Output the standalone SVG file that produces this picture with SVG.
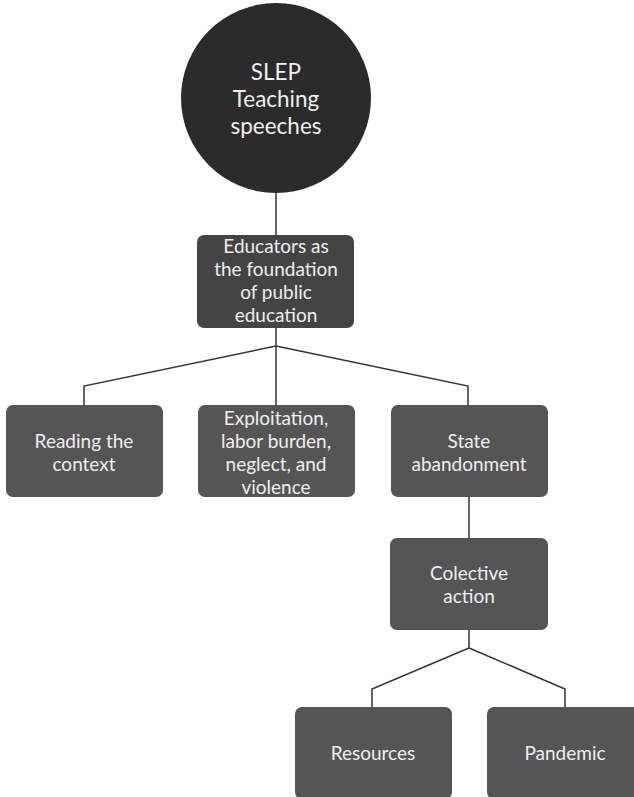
<svg xmlns="http://www.w3.org/2000/svg" width="634" height="797" viewBox="0 0 634 797">
<style>
.box{fill:#555555}
.dark{fill:#444444}
.t{font-family:Lato,"Liberation Sans",sans-serif;font-size:19px;fill:#eeeeee;text-anchor:middle}
.big{font-size:22.5px}
.c{fill:none;stroke:#333333;stroke-width:1.5}
</style>
<rect width="634" height="797" fill="#ffffff"/>
<g id="connectors">
<path class="c" d="M276,193 V235"/>
<path class="c" d="M276,328 V346 M276,346 L84,386 V405 M276,346 V405 M276,346 L468,386 V405"/>
<path class="c" d="M469,497 V538"/>
<path class="c" d="M469,630 V648 L372,689 V707 M469,648 L565,689 V707"/>
</g>
<g id="n-slep">
<circle cx="276" cy="98" r="95" fill="#2b2b2b"/>
<text class="t big" x="276" y="80">SLEP</text>
<text class="t big" x="276" y="107">Teaching</text>
<text class="t big" x="276" y="134">speeches</text>
</g>
<g id="n-educators">
<rect class="dark" x="197" y="235" width="157" height="93" rx="7"/>
<text class="t" x="276" y="253">Educators as</text>
<text class="t" x="276" y="276">the foundation</text>
<text class="t" x="276" y="299">of public</text>
<text class="t" x="276" y="322">education</text>
</g>
<g id="n-reading">
<rect class="box" x="6" y="405" width="157" height="92" rx="7"/>
<text class="t" x="84" y="448">Reading the</text>
<text class="t" x="84" y="471">context</text>
</g>
<g id="n-exploitation">
<rect class="box" x="198" y="405" width="157" height="92" rx="7"/>
<text class="t" x="276" y="425">Exploitation,</text>
<text class="t" x="276" y="448">labor burden,</text>
<text class="t" x="276" y="471">neglect, and</text>
<text class="t" x="276" y="494">violence</text>
</g>
<g id="n-state">
<rect class="box" x="391" y="405" width="157" height="92" rx="7"/>
<text class="t" x="469" y="448">State</text>
<text class="t" x="469" y="471">abandonment</text>
</g>
<g id="n-colective">
<rect class="box" x="390" y="538" width="158" height="92" rx="7"/>
<text class="t" x="469" y="580">Colective</text>
<text class="t" x="469" y="603">action</text>
</g>
<g id="n-resources">
<rect class="box" x="295" y="707" width="157" height="92" rx="7"/>
<text class="t" x="373" y="760">Resources</text>
</g>
<g id="n-pandemic">
<rect class="box" x="487" y="707" width="157" height="92" rx="7"/>
<text class="t" x="565" y="760">Pandemic</text>
</g>
</svg>
